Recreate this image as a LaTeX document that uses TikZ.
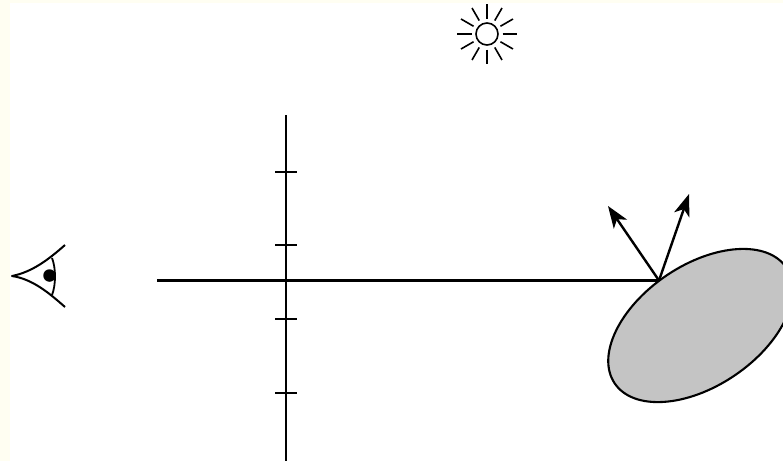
\documentclass[tikz,border=0pt]{standalone}
\usetikzlibrary{shapes.geometric,arrows.meta}
\begin{document}
\begin{tikzpicture}[x=1pt,y=-1pt,
  thick line/.style={line width=2.3pt,black},
  thin line/.style={line width=2pt,black},
  ray arrow/.style={line width=2.4pt,black,-{Stealth[length=22pt,width=16pt,inset=6pt]}},
  blob/.style={ellipse,draw=black,fill=black!23,line width=2.1pt,minimum width=207pt,minimum height=121pt,inner sep=0pt,rotate=34}]
\useasboundingbox (0,0) rectangle (783,461);
\fill[white] (0,0) rectangle (783,461);
\fill[yellow!5] (0,0) rectangle (10,461);
\fill[yellow!5] (0,0) rectangle (783,3);
\begin{scope}
\clip (0,0) rectangle (783,461);
\node[blob] (obj) at (700.5,325.5) {};
\end{scope}
% rays
\coordinate (hit) at (659,280.5);
\coordinate (viewstart) at (157,280.5);
\coordinate (refl) at (608,206);
\coordinate (lightdir) at (689,194);
\draw[thick line] (viewstart) -- (hit);
\draw[ray arrow] (hit) -- (refl);
\draw[ray arrow] (hit) -- (lightdir);
% screen
\coordinate (st) at (286,115);
\coordinate (sb) at (286,461);
\draw[thin line] (st) -- (sb);
\foreach \y in {172,245,319,393}
  \draw[thin line] (275,\y) -- (297,\y);
% eye
\coordinate (apex) at (12,276);
\coordinate (lidtop) at (65,245);
\coordinate (lidbot) at (65,307);
\draw[thin line,line join=round] (lidtop) .. controls (48,260) and (32,272) .. (apex)
  .. controls (32,279) and (48,292) .. (lidbot);
\draw[line width=1.8pt] (52,258) .. controls (56,268) and (56,285) .. (52,295);
\node[circle,fill=black,minimum size=12.5pt,inner sep=0pt] (pupil) at (49.5,275.5) {};
% sun
\node[circle,draw=black,line width=1.6pt,minimum size=22pt,inner sep=0pt] (sun) at (487,34) {};
\foreach \a in {0,30,...,330}
  \draw[line width=1.6pt] (sun.center) ++(\a:15.5) -- ++(\a:14.5);
\end{tikzpicture}
\end{document}
